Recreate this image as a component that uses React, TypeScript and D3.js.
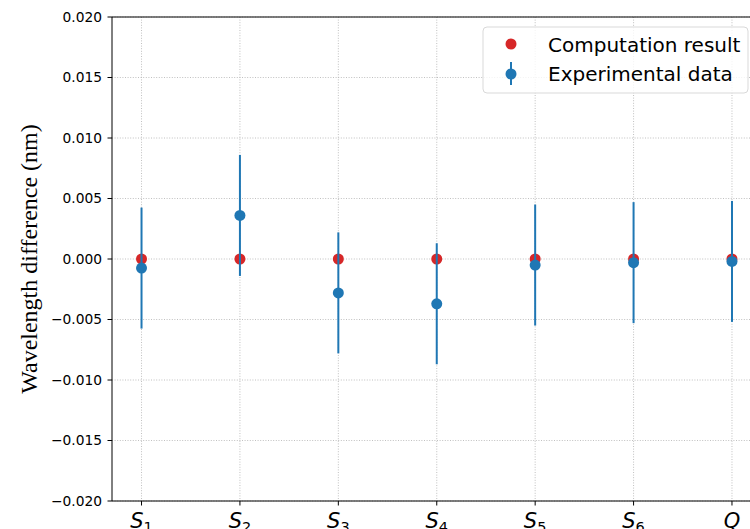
import * as d3 from "d3";

const categories = ["1", "2", "3", "4", "5", "6", "Q"];
const computed = [0, 0, 0, 0, 0, 0, 0];
const experimental = [-0.00075, 0.0036, -0.0028, -0.0037, -0.0005, -0.0003, -0.0002];
const errors = [0.005, 0.005, 0.005, 0.005, 0.005, 0.005, 0.005];
const yTicks = [-0.02, -0.015, -0.01, -0.005, 0, 0.005, 0.01, 0.015, 0.02];

const W = 750;
const H = 529;
const margin = { top: 17, left: 112, bottom: 501 };

export default function App() {
  const x = d3.scaleLinear().domain([-0.3, 6.3]).range([margin.left, 761.5]);
  const y = d3.scaleLinear().domain([-0.02, 0.02]).range([margin.bottom, margin.top]);
  const fmt = (v: number) => {
    const s = Math.abs(v).toFixed(3);
    return v < -1e-9 ? "\u2212" + s : s;
  };
  const blue = "#1f77b4";
  const red = "#d62728";
  const grid = "#b0b0b0";

  return (
    <svg
      width={W}
      height={H}
      style={{ position: "absolute", left: 0, top: 0, background: "#fff" }}
      fontFamily="DejaVu Sans"
    >
      <defs>
        <clipPath id="plot-clip">
          <rect x={margin.left} y={margin.top} width={W - margin.left} height={margin.bottom - margin.top} />
        </clipPath>
      </defs>

      {/* grid */}
      <g stroke={grid} strokeWidth={0.8} strokeDasharray="1,1.6">
        {yTicks.map((t) => (
          <line key={t} x1={margin.left} x2={W} y1={y(t)} y2={y(t)} />
        ))}
        {categories.map((c, i) => (
          <line key={c} x1={x(i)} x2={x(i)} y1={margin.top} y2={margin.bottom} />
        ))}
      </g>

      {/* data */}
      <g clipPath="url(#plot-clip)">
        {computed.map((v, i) => (
          <circle key={"c" + i} cx={x(i)} cy={y(v)} r={5.5} fill={red} />
        ))}
        {experimental.map((v, i) => (
          <g key={"e" + i}>
            <line
              x1={x(i)}
              x2={x(i)}
              y1={y(v - errors[i])}
              y2={y(v + errors[i])}
              stroke={blue}
              strokeWidth={2}
            />
            <circle cx={x(i)} cy={y(v)} r={5.5} fill={blue} />
          </g>
        ))}
      </g>

      {/* spines */}
      <g stroke="#000" strokeWidth={1}>
        <line x1={margin.left} x2={W} y1={margin.top} y2={margin.top} />
        <line x1={margin.left} x2={W} y1={margin.bottom} y2={margin.bottom} />
        <line x1={margin.left} x2={margin.left} y1={margin.top} y2={margin.bottom} />
      </g>

      {/* y axis */}
      <g>
        {yTicks.map((t) => (
          <g key={t}>
            <line x1={margin.left - 4.5} x2={margin.left} y1={y(t)} y2={y(t)} stroke="#000" />
            <text x={margin.left - 10} y={y(t)} dy="0.36em" textAnchor="end" fontSize={13.8} fill="#000">
              {fmt(t)}
            </text>
          </g>
        ))}
      </g>
      <text
        transform={`translate(37,${(margin.top + margin.bottom) / 2}) rotate(-90)`}
        textAnchor="middle"
        fontFamily="Liberation Serif"
        fontSize={24}
        fill="#000"
      >
        Wavelength difference (nm)
      </text>

      {/* x axis */}
      <g>
        {categories.map((c, i) => (
          <g key={c}>
            <line x1={x(i)} x2={x(i)} y1={margin.bottom} y2={margin.bottom + 4.5} stroke="#000" />
            <text x={x(i)} y={528} textAnchor="middle" fontSize={21} fill="#000">
              {c === "Q" ? (
                <tspan fontStyle="italic">Q</tspan>
              ) : (
                <>
                  <tspan fontStyle="italic">S</tspan>
                  <tspan fontSize={14.5} dy={4}>
                    {c}
                  </tspan>
                </>
              )}
            </text>
          </g>
        ))}
      </g>

      {/* legend */}
      <g>
        <rect x={483} y={27} width={265} height={66} rx={4} fill="#fff" fillOpacity={0.8} stroke="#d9d9d9" />
        <circle cx={511} cy={44} r={5.5} fill={red} />
        <text x={548} y={52} fontSize={20} fill="#000">
          Computation result
        </text>
        <line x1={511} x2={511} y1={62} y2={85} stroke={blue} strokeWidth={2} />
        <circle cx={511} cy={74} r={5.5} fill={blue} />
        <text x={548} y={81} fontSize={20} fill="#000">
          Experimental data
        </text>
      </g>
    </svg>
  );
}
